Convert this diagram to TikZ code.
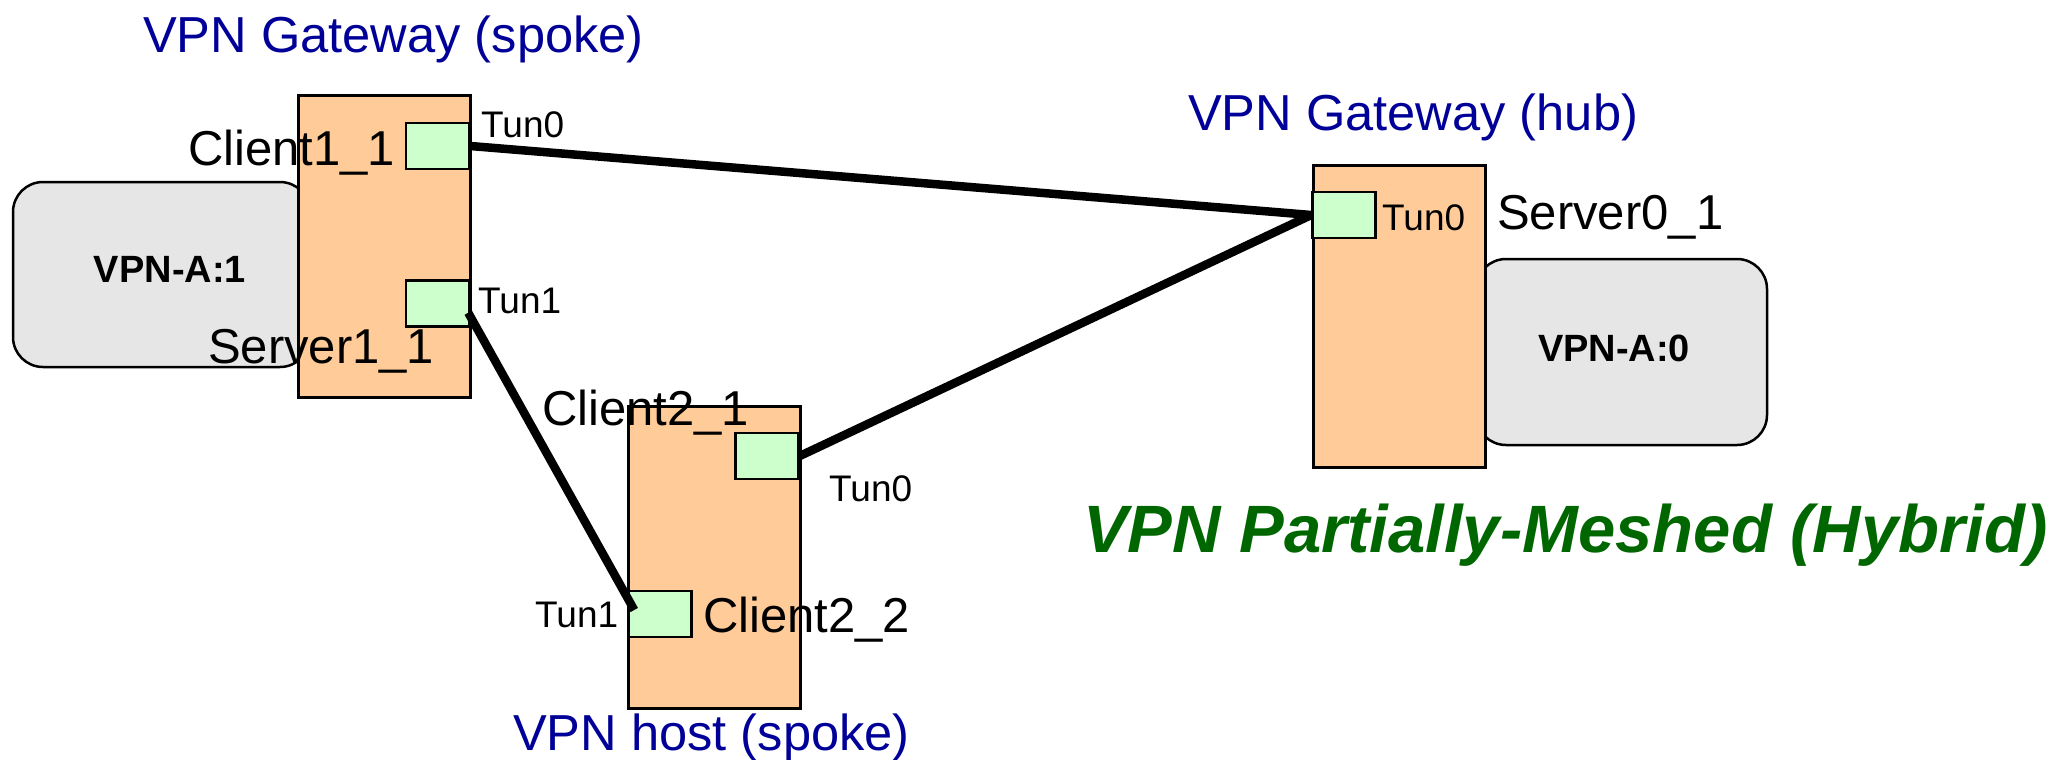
\documentclass[tikz,border=0pt]{standalone}
\usepackage{fontspec}
\setmainfont{Liberation Sans}
\definecolor{gwfill}{HTML}{FFCC99}
\definecolor{tunfill}{HTML}{CCFFCC}
\definecolor{netfill}{HTML}{E6E6E6}
\definecolor{roleblue}{HTML}{000099}
\definecolor{titlegreen}{HTML}{006600}
\tikzset{
  gwbox/.style={draw=black, fill=gwfill, line width=3pt, inner sep=0pt,
    minimum width=172pt, minimum height=302pt},
  tunbox/.style={draw=black, fill=tunfill, line width=2.5pt, inner sep=0pt,
    minimum width=63pt, minimum height=46pt},
  netbox/.style={draw=black, fill=netfill, line width=2.5pt, inner sep=0pt,
    rounded corners=30pt},
  tunnel/.style={draw=black, line width=8.5pt},
  txt/.style={inner sep=0pt, anchor=base west},
  rolelbl/.style={txt, text=roleblue, font=\fontsize{50.6}{60}\selectfont},
  ifname/.style={txt, font=\fontsize{49}{58}\selectfont},
  tunlbl/.style={txt, font=\fontsize{37}{44}\selectfont},
  netlbl/.style={inner sep=0pt, font=\bfseries\fontsize{38}{46}\selectfont},
}
\begin{document}
\begin{tikzpicture}[x=1pt, y=-1pt]
\useasboundingbox (0,0) rectangle (2064,760);

% private networks behind the gateways
\node[netbox, minimum width=297pt, minimum height=185pt] (netA1) at (161.5,274.5) {};
\node[netbox, minimum width=291pt, minimum height=186pt] (netA0) at (1621.5,352) {};

% gateways
\node[gwbox] (spokeGw) at (384,246) {};
\node[gwbox] (spokeHost) at (714,557) {};
\node[gwbox] (hubGw) at (1399.5,316) {};

% tunnel interfaces
\node[tunbox] (c11) at (437.5,146) {};
\node[tunbox] (s11) at (437.5,303.5) {};
\node[tunbox] (c21) at (767,456) {};
\node[tunbox] (c22) at (660,614) {};
\node[tunbox] (s01) at (1344,215) {};

% tunnels
\draw[tunnel] (c11.east) -- (s01.west);
\draw[tunnel] (c21.east) -- (s01.west);
\draw[tunnel] ([xshift=-2pt,yshift=15pt]s11.south east) -- ([xshift=7pt,yshift=4pt]c22.west);

% role labels
\node[rolelbl] (lblSpokeGw) at (143,53) {VPN Gateway (spoke)};
\node[rolelbl] (lblHubGw) at (1188,130) {VPN Gateway (hub)};
\node[rolelbl] (lblHost) at (513,750) {VPN host (spoke)};

% interface names
\node[ifname] (nC11) at (188,165) {Client1\_1};
\node[ifname] (nS11) at (208,363) {Server1\_1};
\node[ifname] (nC21) at (542,425) {Client2\_1};
\node[ifname] (nC22) at (703,632) {Client2\_2};
\node[ifname] (nS01) at (1497,229) {Server0\_1};

% tunnel names
\node[tunlbl] (tA0) at (481,137) {Tun0};
\node[tunlbl] (tA1) at (478,313) {Tun1};
\node[tunlbl] (tB0) at (829,501) {Tun0};
\node[tunlbl] (tB1) at (535,627) {Tun1};
\node[tunlbl] (tC0) at (1382,230) {Tun0};

% network names
\node[netlbl, anchor=base] (vA1) at (170,282) {VPN-A:1};
\node[netlbl, anchor=base] (vA0) at (1614,361) {VPN-A:0};

% title
\node[txt, text=titlegreen, font=\bfseries\itshape\fontsize{67}{80}\selectfont] (title) at (1083,552) {VPN Partially-Meshed (Hybrid)};
\end{tikzpicture}
\end{document}
